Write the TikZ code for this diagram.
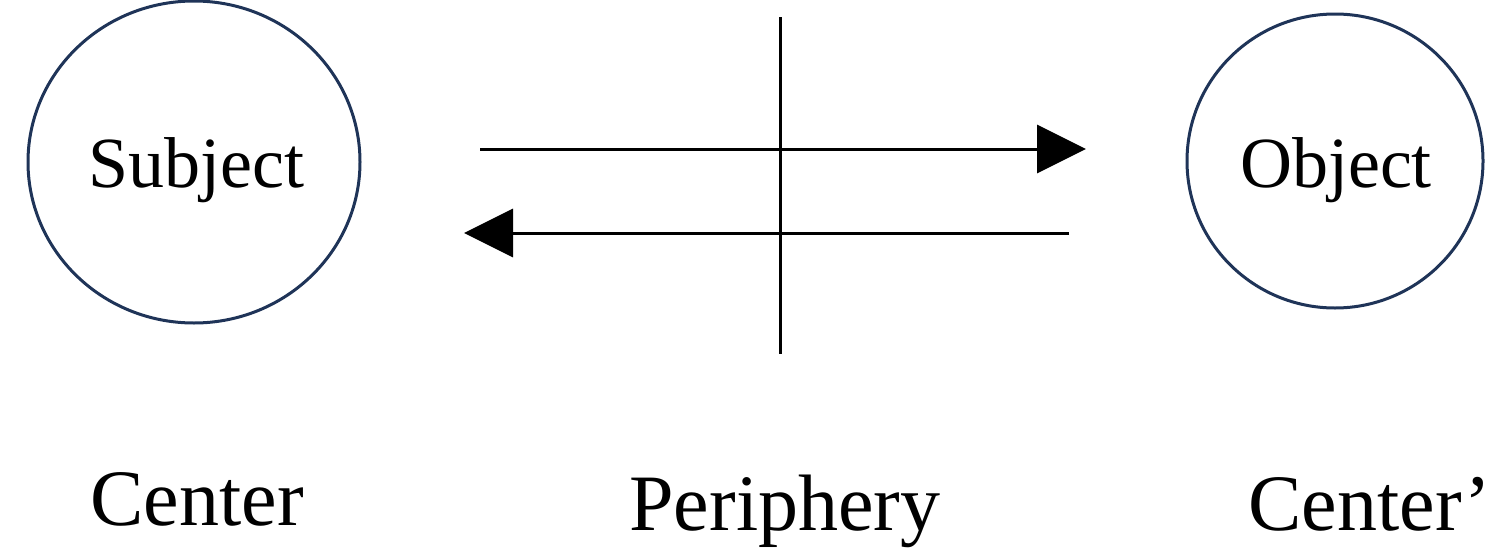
\documentclass[tikz,border=0pt]{standalone}
\usepackage{fontspec}
\setmainfont{Liberation Serif}
\usetikzlibrary{arrows.meta,shapes.geometric}
\definecolor{navy}{HTML}{1F3458}
\begin{document}
\begin{tikzpicture}[x=1pt,y=-1pt,
  ring/.style={ellipse,draw=navy,line width=3pt,inner sep=0pt},
  lbl/.style={font=\fontsize{72}{80}\selectfont,anchor=base,inner sep=0pt},
  big/.style={font=\fontsize{80}{88}\selectfont,anchor=base,inner sep=0pt},
  flow/.style={line width=3pt,-{Triangle[length=49pt,width=48pt]}},
  rule/.style={line width=3pt}]
\useasboundingbox (0,0) rectangle (1511,554);
\node[ring,minimum width=332pt,minimum height=322pt] (subj) at (194,162) {};
\node[ring,minimum width=296pt,minimum height=294pt] (obj) at (1335,161) {};
\node[lbl] (subjt) at (196,187) {Subject};
\node[lbl] (objt) at (1336,187) {Object};
\node[big] (c1) at (197,525) {Center};
\node[big] (per) at (785,530) {Periphery};
\node[big] (c2) at (1370,530) {Center’};
\coordinate (vt) at (780,17);
\coordinate (vb) at (780,354);
\coordinate (r1) at (480,149);
\coordinate (r2) at (1086,149);
\coordinate (l1) at (1069,233);
\coordinate (l2) at (464,233);
\draw[rule] (vt) -- (vb);
\draw[flow] (r1) -- (r2);
\draw[flow] (l1) -- (l2);
\end{tikzpicture}
\end{document}
